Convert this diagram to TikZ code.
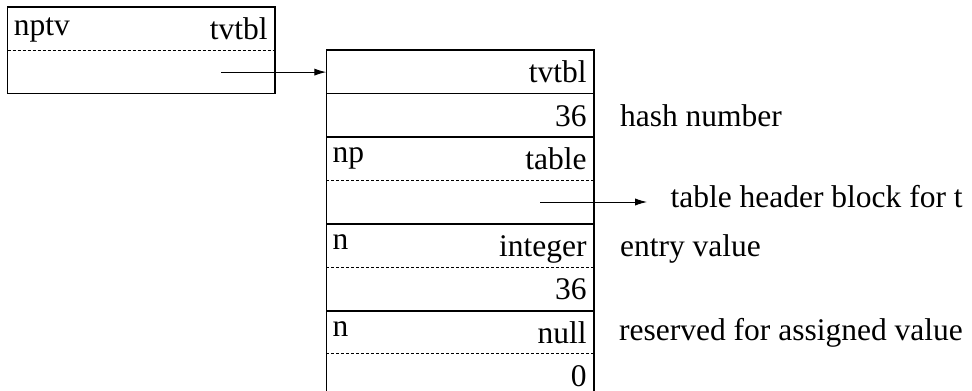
\documentclass[tikz,border=0pt]{standalone}
\usepackage{fontspec}
\setmainfont{Liberation Serif}
\usetikzlibrary{arrows.meta,positioning,calc}

\begin{document}
\begin{tikzpicture}[
  x=0.5pt, y=-0.5pt,
  font=\fontsize{15.75pt}{19pt}\selectfont,
  node distance=0pt,
  cell/.style={minimum width=133.3pt, minimum height=21.3pt, inner sep=0pt,
               text width=126.5pt, align=right, text height=11pt, text depth=0pt},
  tag/.style={anchor=base west, inner sep=0pt},
  note/.style={anchor=base west, inner sep=0pt},
  frame/.style={line width=0.8pt},
  thin/.style={line width=0.6pt},
  heavy/.style={line width=1pt},
  dots/.style={line width=0.5pt, dash pattern=on 1.5pt off 1pt},
  ar/.style={-{Latex[length=6pt, width=3.6pt]}, line width=0.5pt}
]
\useasboundingbox (0,0) rectangle (972,390);
% pointer cell
\node[cell] (ptr) at (141.2,28.7) {tvtbl};
\node[cell, below=of ptr] (ptrv) {};
\node[tag] (nptv) at ($(ptr.south west)+(6,-15)$) {nptv};
\draw[thin] (ptr.north west) rectangle (ptrv.south east);
\draw[dots] (ptr.south west) -- (ptr.south east);
% table block
\node[cell] (r1) at (460,71.8) {tvtbl};
\node[cell, below=of r1] (r2) {36};
\node[cell, below=of r2] (r3) {table};
\node[cell, below=of r3] (r4) {};
\node[cell, below=of r4] (r5) {integer};
\node[cell, below=of r5] (r6) {36};
\node[cell, below=of r6] (r7) {null};
\node[cell, below=of r7] (r8) {0};
\node[tag] (np) at ($(r3.south west)+(6,-17.5)$) {np};
\node[tag] (nint) at ($(r5.south west)+(6,-17.5)$) {n};
\node[tag] (nnull) at ($(r7.south west)+(6,-17.5)$) {n};
\draw[frame] (r1.north west) rectangle (r8.south east);
\draw[thin] (r1.south west) -- (r1.south east);
\draw[heavy] (r2.south west) -- (r2.south east);
\draw[dots] (r3.south west) -- (r3.south east);
\draw[heavy] (r4.south west) -- (r4.south east);
\draw[dots] (r5.south west) -- (r5.south east);
\draw[heavy] (r6.south west) -- (r6.south east);
\draw[dots] (r7.south west) -- (r7.south east);
% notes
\node[note] (hash) at ($(r2.base east)+(26,0)$) {hash number};
\node[note] (entry) at ($(r5.base east)+(26,0)$) {entry value};
\node[note] (resv) at ($(r7.base east)+(25,-3)$) {reserved for assigned value};
% pointers
\coordinate (ptrsrc) at ($(ptrv.center)+(80,0)$);
\draw[ar] (ptrsrc) -- (ptrsrc -| r1.west);
\coordinate (tabsrc) at ($(r4.center)+(80,0)$);
\coordinate (tabtip) at ($(r4.east)+(53.4,0)$);
\node[note] (hdrblk) at ($(tabtip)+(23,5.5)$) {table header block for t};
\draw[ar] (tabsrc) -- (tabtip);
\end{tikzpicture}
\end{document}
